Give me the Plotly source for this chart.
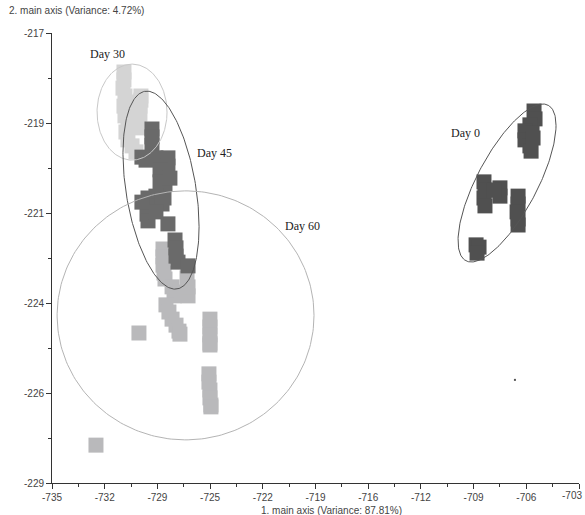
import numpy as np
import plotly.graph_objects as go

# --- scores on the first two main axes, one group per sampling day ---
day0_x = [-705.73, -705.67, -705.98, -706.28, -705.85, -706.28, -705.98, -705.91, -705.79,
          -708.77, -708.71, -708.77, -708.71, -707.80, -707.80, -708.16,
          -706.70, -706.70, -706.76, -706.70, -706.70,
          -709.25, -709.07, -709.19]
day0_y = [-219.08, -219.29, -219.45, -219.61, -219.67, -219.85, -220.01, -220.15, -219.80,
          -220.97, -221.19, -221.40, -221.61, -221.13, -221.35, -221.19,
          -221.35, -221.56, -221.77, -221.96, -222.12,
          -222.65, -222.71, -222.87]

day30_x = [-730.63, -730.63, -730.69, -730.57, -730.26, -729.90, -729.66, -730.63,
           -730.57, -730.39, -729.72, -730.51, -730.39, -730.14, -729.90, -729.78,
           -729.60, -729.66, -729.60, -730.02]
day30_y = [-218.04, -218.25, -218.47, -218.68, -218.84, -219.00, -219.16, -218.95,
           -219.21, -219.43, -219.37, -219.64, -219.85, -220.01, -220.17, -219.53,
           -218.79, -218.95, -218.68, -219.27]

day45_x = [-728.93, -728.93, -728.93, -729.54, -728.69, -727.96, -727.96, -728.08,
           -728.44, -728.44, -728.14, -728.69, -729.17, -728.20, -729.17, -729.23,
           -729.17, -727.96, -727.53, -727.47, -727.47, -727.35, -726.74,
           -727.84, -729.54, -728.32, -728.69, -729.29]
day45_y = [-219.56, -219.77, -219.99, -220.31, -220.33, -220.33, -220.55, -220.76,
           -220.65, -220.97, -221.03, -221.35, -221.40, -221.40, -221.61, -221.83,
           -222.01, -222.09, -222.52, -222.73, -222.95, -223.11, -223.21,
           -220.87, -221.51, -221.56, -221.77, -220.39]

day60_x = [-728.26, -728.26, -728.26, -728.20, -728.14, -727.71, -727.23, -726.74,
           -726.74, -727.59, -726.80, -728.08, -727.90, -727.71, -727.47, -727.29,
           -727.23, -729.72, -725.41, -725.41, -725.41, -725.41, -725.41,
           -725.47, -725.47, -725.41, -725.41, -725.35, -725.35, -732.33]
day60_y = [-222.76, -222.97, -223.19, -223.40, -223.56, -223.77, -223.91, -224.01,
           -223.77, -224.01, -223.53, -224.25, -224.44, -224.63, -224.79, -224.95,
           -225.03, -225.00, -224.63, -224.84, -225.05, -225.27, -225.32,
           -226.09, -226.31, -226.52, -226.73, -226.92, -226.97, -227.99]

# stray point
stray_x = [-706.89]
stray_y = [-226.25]

# group ellipses: centre, half-extent along each axis, correlation
groups = ["Day 0", "Day 30", "Day 45", "Day 60"]
ell_cx = [-707.37, -730.14, -728.38, -726.89]
ell_cy = [-221.00, -219.11, -221.19, -224.53]
ell_sx = [2.975, 2.125, 2.31, 7.80]
ell_sy = [2.107, 1.28, 2.64, 3.32]
ell_rho = [0.73, 0.0, -0.37, 0.0]

# label anchors for each group
label_x = [-709.92, -731.60, -725.16, -719.82]
label_y = [-219.67, -217.56, -220.20, -222.15]

# axis ticks
x_tickvals = [-735.0, -731.8, -728.6, -725.4, -722.2, -719.0, -715.8, -712.6, -709.4, -706.2, -703.0]
x_ticktext = ["-735", "-732", "-729", "-725", "-722", "-719", "-716", "-712", "-709", "-706", "-703"]
y_tickvals = [-229.0, -226.6, -224.2, -221.8, -219.4, -217.0]
y_ticktext = ["-229", "-226", "-224", "-221", "-219", "-217"]

marker_colors = {"Day 0": "#505050", "Day 30": "#d4d4d4", "Day 45": "#6a6a6a", "Day 60": "#b9b9bb"}
ellipse_colors = {"Day 0": "#555555", "Day 30": "#c8c8c8", "Day 45": "#555555", "Day 60": "#b4b4b4"}
tick_font = dict(family="Liberation Sans", size=10, color="#444444")

fig = go.Figure()

points = {
    "Day 0": (day0_x, day0_y),
    "Day 30": (day30_x, day30_y),
    "Day 60": (day60_x, day60_y),
    "Day 45": (day45_x, day45_y),
}
for name, (xs, ys) in points.items():
    fig.add_trace(go.Scatter(
        x=xs, y=ys, mode="markers", name=name,
        marker=dict(symbol="square", size=15, color=marker_colors[name], line=dict(width=0)),
        hoverinfo="x+y+name",
    ))

fig.add_trace(go.Scatter(x=stray_x, y=stray_y, mode="markers",
                         marker=dict(symbol="square", size=2, color="#555555"),
                         hoverinfo="skip"))

t = np.linspace(0, 2 * np.pi, 240)
for g, cx, cy, sx, sy, r in zip(groups, ell_cx, ell_cy, ell_sx, ell_sy, ell_rho):
    ex = cx + sx * np.cos(t)
    ey = cy + sy * (r * np.cos(t) + np.sqrt(1 - r * r) * np.sin(t))
    fig.add_trace(go.Scatter(x=ex, y=ey, mode="lines",
                             line=dict(color=ellipse_colors[g], width=1),
                             hoverinfo="skip"))

for g, lx, ly in zip(groups, label_x, label_y):
    fig.add_annotation(x=lx, y=ly, text=g, showarrow=False,
                       font=dict(family="Liberation Serif", size=12, color="#222222"))

fig.add_annotation(xref="paper", yref="paper", x=-0.085, y=1.05, xanchor="left", yanchor="middle",
                   text="2. main axis (Variance: 4.72%)", showarrow=False,
                   font=dict(family="Liberation Sans", size=10, color="#444444"))
fig.add_annotation(xref="paper", yref="paper", x=0.53, y=-0.06, xanchor="center", yanchor="middle",
                   text="1. main axis (Variance: 87.81%)", showarrow=False,
                   font=dict(family="Liberation Sans", size=10, color="#444444"))

# the last x tick label sits at the page edge; right-align it so it stays readable
x_labels_on_axis = x_ticktext[:-1] + [""]
fig.add_annotation(x=x_tickvals[-1], xref="x", yref="paper", y=-0.028, xanchor="right", xshift=5,
                   yanchor="middle", text=x_ticktext[-1], showarrow=False, font=tick_font)

axis_common = dict(showgrid=False, zeroline=False, showline=True, linecolor="#333333", linewidth=1,
                   ticks="outside", ticklen=5, tickcolor="#333333", tickwidth=1,
                   ticklabeloverflow="allow", automargin=False, tickfont=tick_font)

fig.update_xaxes(range=[-735, -703], tickmode="array", tickvals=x_tickvals, ticktext=x_labels_on_axis,
                 minor=dict(tickmode="linear", tick0=-735, dtick=1.6, ticks="outside", ticklen=3,
                            tickcolor="#333333"),
                 **axis_common)
fig.update_yaxes(range=[-229, -217], tickmode="array", tickvals=y_tickvals, ticktext=y_ticktext,
                 minor=dict(tickmode="linear", tick0=-229, dtick=1.2, ticks="outside", ticklen=3,
                            tickcolor="#333333"),
                 **axis_common)

fig.update_layout(width=585, height=515, margin=dict(l=52, r=6, t=33, b=32, autoexpand=False),
                  showlegend=False, plot_bgcolor="white", paper_bgcolor="white")

fig.write_html("out.html")
